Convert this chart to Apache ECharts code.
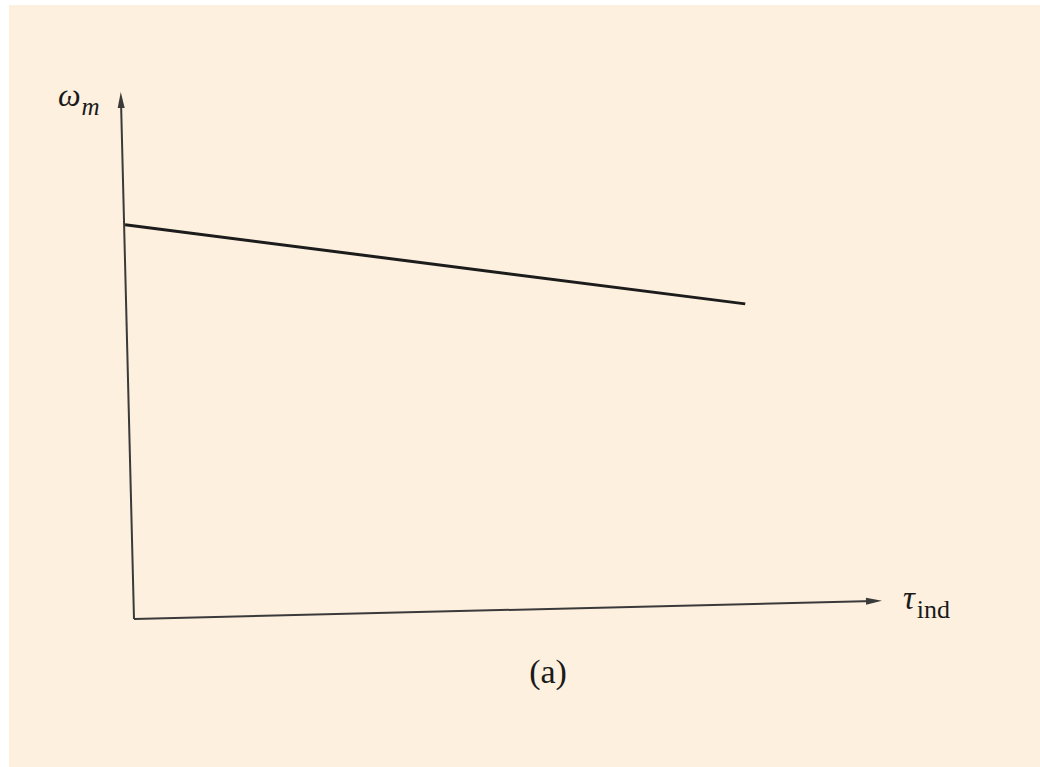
<!DOCTYPE html>
<html>
<head>
<meta charset="utf-8">
<script src="https://cdn.jsdelivr.net/npm/echarts@6/dist/echarts.min.js"></script>
<style>
  html, body { margin: 0; padding: 0; background: #ffffff; }
  #chart { position: absolute; left: 9px; top: 5px; width: 1031px; height: 762px; background: #fef0de; }
</style>
</head>
<body>
<div id="chart"></div>
<script>
// Speed–torque characteristic of the motor: shaft speed vs induced torque.
// Coordinates are in plot units (torque 0..100, speed 0..100).
const speedCurve = [[-1.2, 75.8], [82.6, 60.6]];
// Hand-drawn axes: start at the origin, end at the arrow heads.
const speedAxisLine = [[0, 0], [-1.76, 99.8]];
const torqueAxisLine = [[0, 0], [100, 3.46]];
// Axis titles and caption
const speedLabel = ['ω', 'm'];
const torqueLabel = ['τ', 'ind'];
const caption = '(a)';

const serif = '"Liberation Serif", "DejaVu Serif", serif';
const axisColor = '#3a3a3a';

function arrowed(points, rotate) {
  return points.map((p, i) => i === points.length - 1
    ? { value: p, symbol: 'triangle', symbolSize: [7, 16], symbolRotate: rotate }
    : { value: p, symbol: 'none' });
}

const chart = echarts.init(document.getElementById('chart'), null, { renderer: 'svg' });
chart.setOption({
  backgroundColor: 'transparent',
  animation: false,
  // x runs from -5 so the slightly leaning speed axis stays inside the plot
  grid: { left: 88, top: 94, width: 777, height: 520 },
  xAxis: { type: 'value', min: -5, max: 100, show: false },
  yAxis: { type: 'value', min: 0, max: 100, show: false },
  title: {
    text: caption,
    left: 534, top: 644,
    textAlign: 'center',
    textStyle: { fontFamily: serif, fontSize: 34, fontWeight: 'normal', color: '#1a1a1a' }
  },
  graphic: [
    {
      type: 'text', left: 49, top: 74,
      style: {
        text: '{w|' + speedLabel[0] + '}{s|' + speedLabel[1] + '}',
        rich: {
          w: { fontFamily: serif, fontStyle: 'italic', fontSize: 32, fill: '#1a1a1a', verticalAlign: 'bottom' },
          s: { fontFamily: serif, fontStyle: 'italic', fontSize: 25, fill: '#1a1a1a', padding: [0, 0, -8, 1], verticalAlign: 'bottom' }
        }
      }
    },
    {
      type: 'text', left: 894, top: 576,
      style: {
        text: '{t|' + torqueLabel[0] + '}{s|' + torqueLabel[1] + '}',
        rich: {
          t: { fontFamily: serif, fontStyle: 'italic', fontSize: 33, fill: '#1a1a1a', verticalAlign: 'bottom' },
          s: { fontFamily: serif, fontSize: 26, fill: '#1a1a1a', padding: [0, 0, -8, 2], verticalAlign: 'bottom' }
        }
      }
    }
  ],
  series: [
    {
      type: 'line', silent: true,
      data: arrowed(speedAxisLine, 1.4),
      lineStyle: { color: axisColor, width: 2 },
      itemStyle: { color: axisColor }
    },
    {
      type: 'line', clip: false, silent: true,
      data: arrowed(torqueAxisLine, -88.6),
      lineStyle: { color: axisColor, width: 2 },
      itemStyle: { color: axisColor }
    },
    {
      type: 'line', silent: true,
      data: speedCurve, symbol: 'none',
      lineStyle: { color: '#1c1c1c', width: 3 }
    }
  ]
});
</script>
</body>
</html>
